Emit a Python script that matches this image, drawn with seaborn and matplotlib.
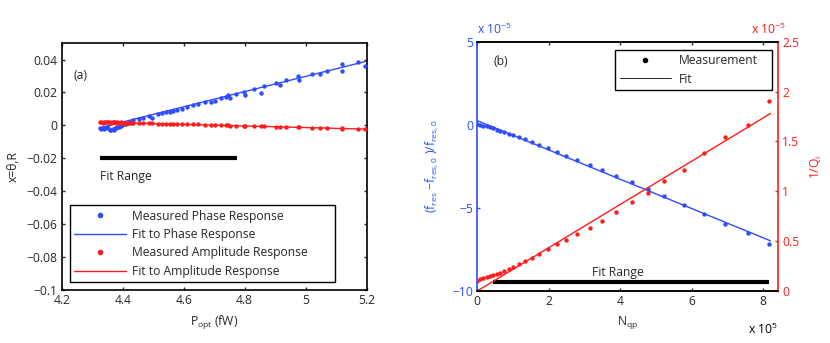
import numpy as np
import pandas as pd
import matplotlib
matplotlib.use("Agg")
import matplotlib.pyplot as plt
import seaborn as sns
from matplotlib.lines import Line2D

# ---- panel (a): response vs optical power ----
p_opt = [4.326, 4.330, 4.334, 4.338, 4.343, 4.348, 4.352, 4.358, 4.363, 4.367, 4.371,
         4.375, 4.379, 4.383, 4.388, 4.393, 4.398, 4.404, 4.410, 4.417, 4.424, 4.430,
         4.435, 4.454, 4.468, 4.487, 4.495, 4.517, 4.528, 4.542, 4.555, 4.566,
         4.579, 4.593, 4.612, 4.630, 4.648, 4.670, 4.689, 4.704, 4.721, 4.738,
         4.744, 4.752, 4.771, 4.799, 4.801, 4.831, 4.853, 4.863, 4.902, 4.916,
         4.935, 4.976, 4.978, 5.022, 5.047, 5.069, 5.118, 5.118, 5.170, 5.194]
phase = [-0.0016, -0.0021, -0.0013, -0.0024, -0.0019, -0.0011, -0.0017, -0.0027, -0.0031, -0.0022, -0.0029,
         -0.0015, -0.0019, -0.0007, -0.0010, -0.0003, 0.0000, 0.0006, 0.0010, 0.0014, 0.0019, 0.0022,
         0.0030, 0.0036, 0.0042, 0.0055, 0.0046, 0.0067, 0.0075, 0.0082, 0.0081, 0.0085,
         0.0091, 0.0099, 0.0113, 0.0123, 0.0131, 0.0141, 0.0143, 0.0147, 0.0167, 0.0172,
         0.0182, 0.0167, 0.0188, 0.0204, 0.0182, 0.0222, 0.0198, 0.0238, 0.0256, 0.0244,
         0.0276, 0.0297, 0.0273, 0.0315, 0.0309, 0.0331, 0.0370, 0.0333, 0.0385, 0.0358]
amplitude = [0.0018, 0.0019, 0.0017, 0.0019, 0.0018, 0.0020, 0.0018, 0.0019, 0.0017, 0.0019, 0.0018,
             0.0018, 0.0017, 0.0019, 0.0017, 0.0018, 0.0016, 0.0017, 0.0016, 0.0016, 0.0015, 0.0016,
             0.0014, 0.0014, 0.0013, 0.0012, 0.0012, 0.0011, 0.0011, 0.0010, 0.0010, 0.0009,
             0.0009, 0.0008, 0.0007, 0.0006, 0.0006, 0.0005, 0.0004, 0.0003, 0.0002, 0.0001,
             0.0000, -0.0001, -0.0001, -0.0002, -0.0003, -0.0004, -0.0005, -0.0006, -0.0008, -0.0008,
             -0.0010, -0.0012, -0.0012, -0.0015, -0.0016, -0.0017, -0.0020, -0.0019, -0.0022, -0.0024]
fit_a_x = [4.33, 5.20]
fit_phase_y = [-0.0012, 0.0390]
fit_amp_y = [0.0019, -0.0023]
fit_range_a = [4.326, 4.776]

# ---- panel (b): resonator shift vs quasiparticle number (x in 1e5, y in 1e-5) ----
n_qp = [0, 0.075, 0.168, 0.26, 0.355, 0.448, 0.55, 0.65, 0.75, 0.887, 1.007, 1.16,
        1.343, 1.525, 1.725, 1.975, 2.22, 2.48, 2.80, 3.165, 3.485, 3.875, 4.326,
        4.765, 5.231, 5.79, 6.33, 6.93, 7.58, 8.17]
df_f = [0.04, 0.0, -0.05, -0.10, -0.16, -0.22, -0.30, -0.38, -0.46, -0.54, -0.62, -0.74,
        -0.88, -1.04, -1.20, -1.41, -1.63, -1.85, -2.14, -2.43, -2.74, -3.08, -3.47,
        -3.87, -4.31, -4.81, -5.37, -5.94, -6.52, -7.20]
inv_qi = [0.104, 0.117, 0.127, 0.137, 0.147, 0.157, 0.170, 0.184, 0.197, 0.221, 0.244, 0.271,
          0.301, 0.331, 0.374, 0.418, 0.468, 0.508, 0.568, 0.635, 0.705, 0.789, 0.889,
          0.986, 1.106, 1.213, 1.380, 1.547, 1.664, 1.905]
fit_b_x = [0.0, 8.2]
fit_df_y = [0.25, -6.98]
fit_qi_y = [0.0, 1.78]
fit_range_b = [0.45, 8.17]

blue = "#2e4cff"
red = "#ff1c1c"
fs = 8.7

sns.set_style("white")
plt.rcParams['font.family'] = ['Open Sans', 'DejaVu Sans']
plt.rcParams['mathtext.default'] = 'regular'
plt.rcParams['font.size'] = fs
plt.rcParams['xtick.direction'] = 'in'
plt.rcParams['ytick.direction'] = 'in'
plt.rcParams['xtick.major.size'] = 2.5
plt.rcParams['ytick.major.size'] = 2.5
plt.rcParams['axes.linewidth'] = 1.2

fig = plt.figure(figsize=(8.3, 3.43), dpi=100)
ax_a = fig.add_axes([0.0743, 0.1545, 0.3675, 0.720])
ax_b = fig.add_axes([0.575, 0.1516, 0.3623, 0.7268])

# panel (a)
sns.scatterplot(x=p_opt, y=phase, ax=ax_a, color=blue, s=10, linewidth=0, zorder=3)
sns.lineplot(x=fit_a_x, y=fit_phase_y, ax=ax_a, color=blue, lw=1.0)
sns.scatterplot(x=p_opt, y=amplitude, ax=ax_a, color=red, s=10, linewidth=0, zorder=3)
sns.lineplot(x=fit_a_x, y=fit_amp_y, ax=ax_a, color=red, lw=1.0)
ax_a.plot(fit_range_a, [-0.02, -0.02], color='black', lw=3, solid_capstyle='butt')
ax_a.text(fit_range_a[0], -0.031, "Fit Range", ha='left', va='center', fontsize=fs)
ax_a.text(4.24, 0.030, "(a)", ha='left', va='center', fontsize=fs)

ax_a.set_xlim(4.2, 5.2)
ax_a.set_ylim(-0.1, 0.05)
ax_a.set_xticks([4.2, 4.4, 4.6, 4.8, 5.0, 5.2])
ax_a.set_xticklabels(['4.2', '4.4', '4.6', '4.8', '5', '5.2'])
ax_a.set_yticks([-0.1, -0.08, -0.06, -0.04, -0.02, 0, 0.02, 0.04])
ax_a.set_yticklabels(['\u22120.1', '\u22120.08', '\u22120.06', '\u22120.04', '\u22120.02', '0', '0.02', '0.04'])
ax_a.tick_params(top=True, right=True, bottom=True, left=True, width=1, pad=3)
ax_a.set_xlabel(r'P$_{opt}$ (fW)', labelpad=5)
ax_a.set_ylabel('x=\u03b8,R', labelpad=5)
for s in ax_a.spines.values():
    s.set_color('black')

leg_a = [Line2D([], [], color=blue, marker='o', ms=3, ls='none'),
         Line2D([], [], color=blue, lw=1.0),
         Line2D([], [], color=red, marker='o', ms=3, ls='none'),
         Line2D([], [], color=red, lw=1.0)]
lab_a = ["Measured Phase Response", "Fit to Phase Response",
         "Measured Amplitude Response", "Fit to Amplitude Response"]
lg = ax_a.legend(leg_a, lab_a, loc='lower left', bbox_to_anchor=(0.027, 0.032, 0.869, 0.3),
                 mode='expand', borderaxespad=0, fancybox=False, framealpha=1,
                 edgecolor='black', handlelength=4.3, handletextpad=0.5, labelspacing=0.45,
                 borderpad=0.35, fontsize=fs)
lg.get_frame().set_linewidth(1.0)

# panel (b)
ax_r = ax_b.twinx()
sns.scatterplot(x=n_qp, y=df_f, ax=ax_b, color=blue, s=10, linewidth=0, zorder=3)
sns.lineplot(x=fit_b_x, y=fit_df_y, ax=ax_b, color=blue, lw=1.0)
ax_b.plot(fit_range_b, [-9.48, -9.48], color='black', lw=3, solid_capstyle='butt')
ax_b.text(3.92, -9.3, "Fit Range", ha='center', va='bottom', fontsize=fs)
ax_b.text(0.45, 3.8, "(b)", ha='left', va='center', fontsize=fs)
sns.scatterplot(x=n_qp, y=inv_qi, ax=ax_r, color=red, s=10, linewidth=0, zorder=3)
sns.lineplot(x=fit_b_x, y=fit_qi_y, ax=ax_r, color=red, lw=1.0)

ax_b.set_xlim(0, 8.41)
ax_b.set_ylim(-10, 5)
ax_r.set_ylim(0, 2.5)
ax_b.set_xticks([0, 2, 4, 6, 8])
ax_b.set_yticks([-10, -5, 0, 5])
ax_b.set_yticklabels(['\u221210', '\u22125', '0', '5'])
ax_r.set_yticks([0, 0.5, 1, 1.5, 2, 2.5])
ax_r.set_yticklabels(['0', '0.5', '1', '1.5', '2', '2.5'])
ax_b.tick_params(axis='x', top=True, bottom=True, width=1, pad=3)
ax_b.tick_params(axis='y', colors=blue, width=1, pad=3)
ax_r.tick_params(axis='y', colors=red, width=1, pad=3)
ax_b.spines['left'].set_color(blue)
ax_b.spines['right'].set_visible(False)
ax_r.spines['left'].set_visible(False)
ax_r.spines['right'].set_color(red)
ax_r.spines['top'].set_color('black')
ax_r.spines['bottom'].set_color('black')

ax_b.set_xlabel(r'N$_{qp}$', labelpad=4)
ax_b.set_ylabel(r'(f$_{res}$ $-$f$_{res,0}$ )/f$_{res,0}$', color=blue, labelpad=9)
ax_r.set_ylabel(r'1/Q$_i$', color=red, labelpad=7)
ax_b.text(0.0, 1.02, r'x 10$^{-5}$', transform=ax_b.transAxes, color=blue,
          ha='left', va='bottom', fontsize=fs)
ax_b.text(1.025, 1.02, r'x 10$^{-5}$', transform=ax_b.transAxes, color=red,
          ha='right', va='bottom', fontsize=fs)
ax_b.text(1.0, -0.185, r'x 10$^{5}$', transform=ax_b.transAxes, color='black',
          ha='right', va='bottom', fontsize=fs)

leg_b = [Line2D([], [], color='black', marker='o', ms=3, ls='none'),
         Line2D([], [], color='black', lw=0.6)]
lg2 = ax_r.legend(leg_b, ["Measurement", "Fit"], loc='upper left',
                  bbox_to_anchor=(0.459, 0.967, 0.521, 0.0), mode='expand', borderaxespad=0,
                  fancybox=False, framealpha=1, edgecolor='black', handlelength=4.3,
                  handletextpad=0.6, labelspacing=0.45, borderpad=0.35, fontsize=fs)
lg2.get_frame().set_linewidth(1.0)

fig.savefig("out.png", dpi=100)
